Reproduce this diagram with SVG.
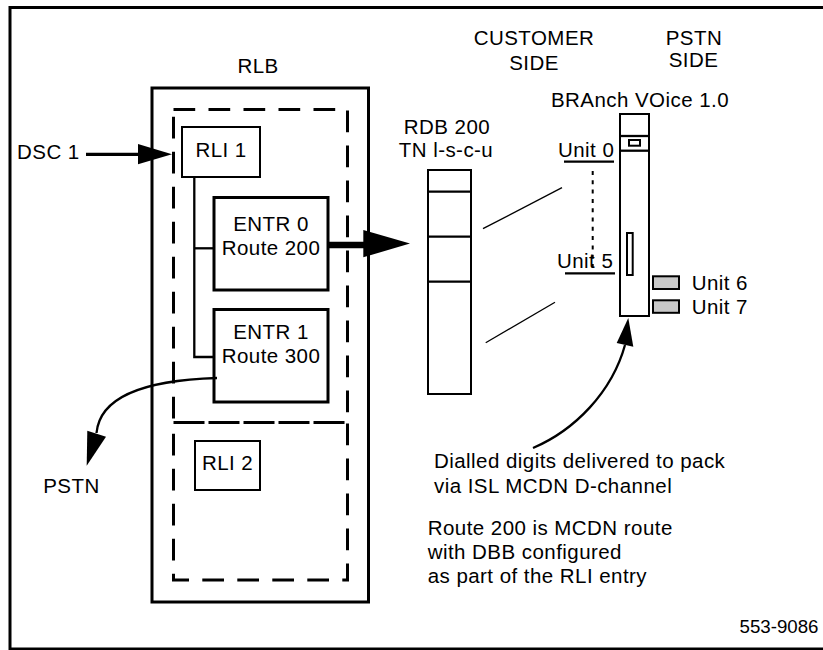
<svg xmlns="http://www.w3.org/2000/svg" width="823" height="650" viewBox="0 0 823 650">
<defs>
<style>
text{font-family:"Liberation Sans",Arial,sans-serif;font-size:20.5px;letter-spacing:0.45px;fill:#000}
.c{text-anchor:middle}
.e{text-anchor:end}
.box{fill:#fff;stroke:#000;stroke-width:2}
.bold{fill:#fff;stroke:#000;stroke-width:3}
.dash{fill:none;stroke:#000;stroke-width:3;stroke-dasharray:21.7 13.3}
.ln{fill:none;stroke:#000;stroke-width:2.3}
.thin{fill:none;stroke:#000;stroke-width:1.3}
.grey{fill:#c8c8c8;stroke:#000;stroke-width:2}
</style>
</defs>
<rect width="823" height="650" fill="#fff"/>
<rect x="10" y="7.5" width="830" height="641.5" fill="none" stroke="#000" stroke-width="3"/>

<g id="rlb">
<text class="c" x="258" y="72.5">RLB</text>
<rect class="bold" x="152" y="88" width="216.5" height="514"/>
<rect class="dash" x="173.5" y="109.5" width="174" height="313"/>
<rect class="dash" x="173.5" y="422.5" width="174" height="157.5"/>
</g>

<g id="rli1">
<rect class="box" x="182" y="127" width="78" height="50"/>
<text class="c" x="221" y="157">RLI 1</text>
</g>

<g id="entr0">
<rect class="bold" x="214" y="197.5" width="114" height="92.5"/>
<text class="c" x="271" y="231">ENTR 0</text>
<text class="c" x="271" y="255">Route 200</text>
</g>

<g id="entr1">
<rect class="bold" x="214" y="309.5" width="114" height="92.5"/>
<text class="c" x="271" y="338.5">ENTR 1</text>
<text class="c" x="271" y="363">Route 300</text>
</g>

<g id="rli2">
<rect class="box" x="195" y="441" width="65" height="49"/>
<text class="c" x="227.5" y="469.5">RLI 2</text>
</g>

<g id="dsc1"><text x="17" y="158.5">DSC 1</text></g>
<g id="pstn"><text class="c" x="71.5" y="493">PSTN</text></g>

<g id="sides">
<text class="c" x="534" y="45">CUSTOMER</text>
<text class="c" x="534" y="69.5">SIDE</text>
<text class="c" x="694" y="45">PSTN</text>
<text class="c" x="693.5" y="67">SIDE</text>
</g>

<g id="rdb">
<text class="c" x="447" y="133.5">RDB 200</text>
<text class="c" x="446" y="157">TN l-s-c-u</text>
<rect class="box" x="428" y="170" width="43" height="224"/>
<line class="ln" x1="428" y1="191.7" x2="471" y2="191.7"/>
<line class="ln" x1="428" y1="236.7" x2="471" y2="236.7"/>
<line class="ln" x1="428" y1="281.7" x2="471" y2="281.7"/>
</g>

<g id="branch">
<text class="c" x="640" y="107">BRAnch VOice 1.0</text>
<rect class="box" x="620" y="114" width="29" height="202"/>
<line class="ln" x1="620" y1="136" x2="649" y2="136"/>
<line class="ln" x1="620" y1="150.7" x2="649" y2="150.7"/>
<rect class="box" x="629" y="140" width="11" height="5.7"/>
<rect class="box" x="627" y="233" width="5.7" height="42"/>
</g>

<g id="units">
<text x="558" y="157">Unit 0</text>
<line class="ln" x1="564" y1="161.7" x2="614" y2="161.7"/>
<line x1="592.7" y1="171" x2="592.7" y2="272" stroke="#000" stroke-width="2" stroke-dasharray="4 5.3"/>
<text x="557" y="268">Unit 5</text>
<line class="ln" x1="565" y1="273.3" x2="615" y2="273.3"/>
<rect class="grey" x="653" y="276.3" width="26" height="12.7"/>
<text x="691.7" y="290">Unit 6</text>
<rect class="grey" x="653" y="300.3" width="26" height="12.5"/>
<text x="691.7" y="314">Unit 7</text>
</g>

<g id="notes">
<text x="434" y="468">Dialled digits delivered to pack</text>
<text x="434" y="493">via ISL MCDN D-channel</text>
<text x="427.7" y="535">Route 200 is MCDN route</text>
<text x="427.7" y="559">with DBB configured</text>
<text x="427.7" y="583">as part of the RLI entry</text>
<text class="e" x="818.5" y="633.3" style="font-size:18.7px;letter-spacing:0">553-9086</text>
</g>

<g id="connectors">
<polyline class="ln" points="194.3,177 194.3,357 214,357"/>
<line class="ln" x1="194.3" y1="248.3" x2="214" y2="248.3"/>
<line x1="86" y1="154.3" x2="140" y2="154.3" stroke="#000" stroke-width="3.3"/>
<polygon points="138,144 172,154.3 138,164.3" fill="#000"/>
<line x1="328" y1="245" x2="366" y2="245" stroke="#000" stroke-width="6.7"/>
<polygon points="363.3,230 410,243.5 363.3,257.3" fill="#000"/>
<path class="ln" d="M217,378 C150,380 100,395 96.5,433"/>
<polygon points="87.3,430.7 106,436.7 86.7,465.7" fill="#000"/>
<path class="ln" d="M533,448 C575,430 612,392 625,345"/>
<polygon points="616.7,343 633.3,346.7 628.3,318" fill="#000"/>
<line class="thin" x1="483" y1="228.7" x2="562" y2="187.7"/>
<line class="thin" x1="485.7" y1="342.7" x2="555" y2="302.3"/>
</g>
</svg>
